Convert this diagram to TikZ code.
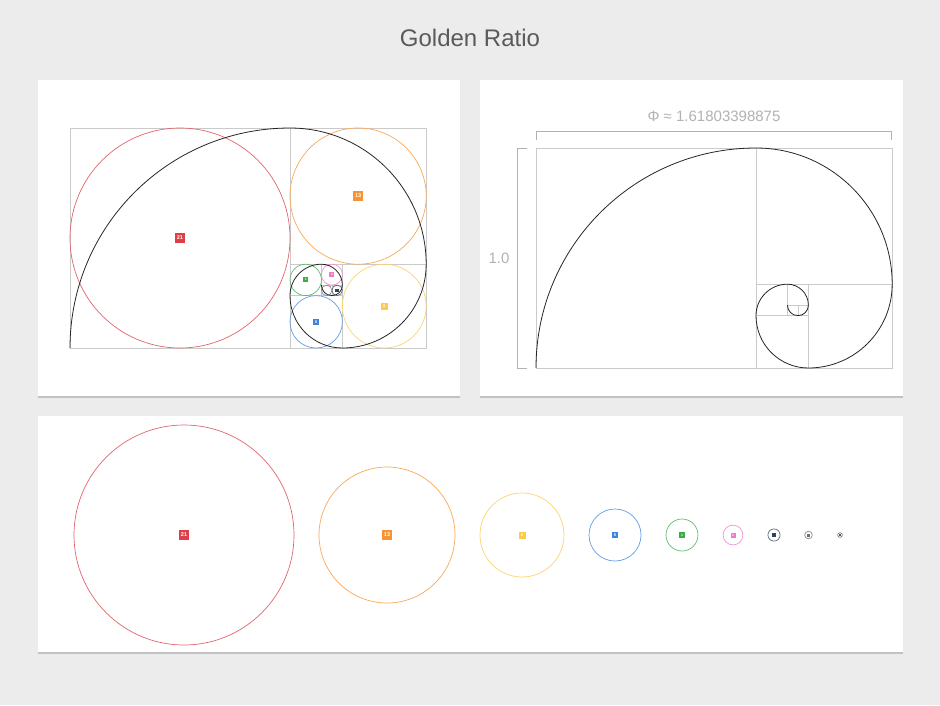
\documentclass[tikz,border=0pt]{standalone}
\usepackage{fontspec}
\setmainfont{Liberation Sans}
\usetikzlibrary{calc}
\usetikzlibrary{positioning}

\definecolor{bgray}{HTML}{ECECEC}
\definecolor{gridgray}{HTML}{CACACA}
\definecolor{bracketgray}{HTML}{B2B2B2}
\definecolor{titlegray}{HTML}{5A5A5A}
\definecolor{fibred}{HTML}{DD3F47}
\definecolor{fiborange}{HTML}{F79330}
\definecolor{fibyellow}{HTML}{FDCB4C}
\definecolor{fibblue}{HTML}{3E84DB}
\definecolor{fibgreen}{HTML}{3AAA4B}
\definecolor{fibpink}{HTML}{EE7BC8}
\definecolor{fibnavy}{HTML}{34435C}
\definecolor{fibgray}{HTML}{707070}

\begin{document}
\begin{tikzpicture}[x=1pt,y=-1pt]
  \tikzstyle{card}=[fill=white]
  \tikzstyle{card shadow}=[fill=black!24]
  \tikzset{
gridline/.style={draw=gridgray,line width=0.8},
spiral line/.style={draw=black!85,line width=0.8},
bracket/.style={draw=bracketgray,line width=1},
ring/.style 2 args={circle,draw=#1!80,line width=0.7,inner sep=0,minimum size=#2},
tag/.style 2 args={rectangle,fill=#1,text=white,inner sep=0,minimum size=#2},
big tag/.style={font=\fontsize{5.5}{6}\selectfont\bfseries},
mid tag/.style={font=\fontsize{4}{4.5}\selectfont\bfseries},
small tag/.style={font=\fontsize{3}{3.5}\selectfont\bfseries}
}
  \fill[bgray] (0,0) rectangle (940,705);
  \useasboundingbox (0,0) rectangle (940,705);

  \node[text=titlegray,font=\fontsize{24}{28}\selectfont] (title) at (470,38) {Golden Ratio};

  % cards
  \fill[black!8] (37,80.5) rectangle (461,399);
  \fill[card shadow] (38,81) rectangle (460,397.8);
  \fill[card] (38,80) rectangle (460,396);
  \fill[black!8] (479,80.5) rectangle (904,399);
  \fill[card shadow] (480,81) rectangle (903,397.8);
  \fill[card] (480,80) rectangle (903,396);
  \fill[black!8] (37,416.5) rectangle (904,655);
  \fill[card shadow] (38,417) rectangle (903,653.8);
  \fill[card] (38,416) rectangle (903,652);

  % left card: squares, circles and spiral
  \begin{scope}[shift={(70,128)},x=10.476pt,y=-10.476pt]
    \draw[gridline] (0,0) rectangle (34,21);
    \draw[gridline] (21,0) -- (21,21);
    \draw[gridline] (21,13) -- (34,13);
    \draw[gridline] (26,13) -- (26,21);
    \draw[gridline] (21,16) -- (26,16);
    \draw[gridline] (24,13) -- (24,16);
    \draw[gridline] (24,15) -- (26,15);
    \draw[gridline] (25,15) -- (25,16);

    \node[ring={fibred}{220pt}] (c21) at (10.5,10.5) {};
    \node[ring={fiborange}{136.2pt}] (c13) at (27.5,6.5) {};
    \node[ring={fibyellow}{83.8pt}] (c8) at (30,17) {};
    \node[ring={fibblue}{52.4pt}] (c5) at (23.5,18.5) {};
    \node[ring={fibgreen}{31.4pt}] (c3) at (22.5,14.5) {};
    \node[ring={fibpink}{21pt}] (c2) at (25,14) {};
    \node[ring={fibnavy}{10.5pt}] (c1) at (25.5,15.5) {};
    \node[ring={fibgray}{10.5pt}] (c1b) at (24.5,15.5) {};

    \node[tag={fibred}{9.5pt},big tag] (t21) at (c21) {21};
    \node[tag={fiborange}{9.5pt},big tag] (t13) at (c13) {13};
    \node[tag={fibyellow}{7pt},mid tag] (t8) at (c8) {8};
    \node[tag={fibblue}{6.5pt},mid tag] (t5) at (c5) {5};
    \node[tag={fibgreen}{5pt},small tag] (t3) at (c3) {3};
    \node[tag={fibpink}{5pt},small tag] (t2) at (c2) {2};
    \node[tag={fibnavy}{3.5pt}] (t1) at (c1) {};

    \coordinate (s1) at (0,21);
    \draw[spiral line] (s1) arc[start angle=180,end angle=270,radius=21]
      arc[start angle=270,end angle=360,radius=13]
      arc[start angle=0,end angle=90,radius=8]
      arc[start angle=90,end angle=180,radius=5]
      arc[start angle=180,end angle=270,radius=3]
      arc[start angle=270,end angle=360,radius=2]
      arc[start angle=0,end angle=90,radius=1]
      arc[start angle=90,end angle=180,radius=1];
  \end{scope}

  % right card: spiral and ratio
  \begin{scope}[shift={(536,148)},x=10.476pt,y=-10.476pt]
    \draw[gridline] (0,0) rectangle (34,21);
    \draw[gridline] (21,0) -- (21,21);
    \draw[gridline] (21,13) -- (34,13);
    \draw[gridline] (26,13) -- (26,21);
    \draw[gridline] (21,16) -- (26,16);
    \draw[gridline] (24,13) -- (24,16);
    \draw[gridline] (24,15) -- (26,15);
    \draw[gridline] (25,15) -- (25,16);

    \coordinate (s2) at (0,21);
    \draw[spiral line] (s2) arc[start angle=180,end angle=270,radius=21]
      arc[start angle=270,end angle=360,radius=13]
      arc[start angle=0,end angle=90,radius=8]
      arc[start angle=90,end angle=180,radius=5]
      arc[start angle=180,end angle=270,radius=3]
      arc[start angle=270,end angle=360,radius=2]
      arc[start angle=0,end angle=90,radius=1]
      arc[start angle=90,end angle=180,radius=1];
  \end{scope}

  \coordinate (phi l) at (536,140);
  \coordinate (phi lt) at (536,131);
  \coordinate (phi rt) at (891,131);
  \coordinate (phi r) at (891,140);
  \draw[bracket] (phi l) -- (phi lt) -- (phi rt) -- (phi r);
  \node[text=bracketgray,font=\fontsize{15}{18}\selectfont] (phi) at (714,116) {Φ ≈ 1.61803398875};

  \coordinate (one t) at (527,148);
  \coordinate (one tl) at (517,148);
  \coordinate (one bl) at (517,368);
  \coordinate (one b) at (527,368);
  \draw[bracket] (one t) -- (one tl) -- (one bl) -- (one b);
  \node[text=bracketgray,font=\fontsize{15}{18}\selectfont] (one) at (499,258) {1.0};

  % bottom card: circles in a row
  \node[ring={fibred}{220pt}] (b21) at (184,535) {};
  \node[ring={fiborange}{136pt}] (b13) at (387,535) {};
  \node[ring={fibyellow}{84pt}] (b8) at (522,535) {};
  \node[ring={fibblue}{52pt}] (b5) at (615,535) {};
  \node[ring={fibgreen}{32pt}] (b3) at (682,535) {};
  \node[ring={fibpink}{19.8pt}] (b2) at (733,535) {};
  \node[ring={fibnavy}{12.2pt}] (b1) at (774,535) {};
  \node[ring={fibgray}{7.6pt}] (b0) at (808.5,535) {};
  \node[ring={fibgray!80!black}{4.7pt}] (bm) at (840,535) {};

  \node[tag={fibred}{9.5pt},big tag] (bt21) at (b21) {21};
  \node[tag={fiborange}{9.5pt},big tag] (bt13) at (b13) {13};
  \node[tag={fibyellow}{7pt},mid tag] (bt8) at (b8) {8};
  \node[tag={fibblue}{6.5pt},mid tag] (bt5) at (b5) {5};
  \node[tag={fibgreen}{5.5pt},small tag] (bt3) at (b3) {3};
  \node[tag={fibpink}{5pt},small tag] (bt2) at (b2) {2};
  \node[tag={fibnavy}{4pt}] (bt1) at (b1) {};
  \node[tag={fibgray}{3pt}] (bt0) at (b0) {};
  \node[tag={fibgray!80!black}{2.2pt}] (btm) at (bm) {};
\end{tikzpicture}
\end{document}
